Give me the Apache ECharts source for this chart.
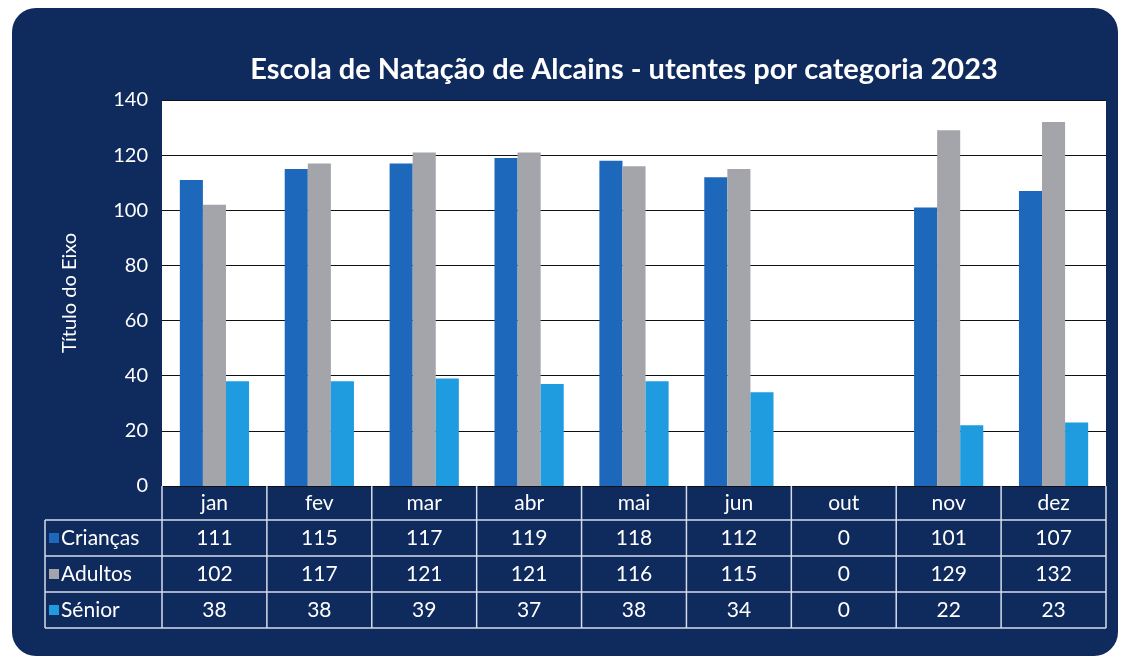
<!DOCTYPE html>
<html>
<head>
<meta charset="utf-8">
<script src="https://cdn.jsdelivr.net/npm/echarts@6/dist/echarts.min.js"></script>
<style>
  html, body { margin: 0; padding: 0; background: #fff; }
  #panel { position: absolute; left: 12px; top: 8px; width: 1106px; height: 648px; background: #0f2a5c; border-radius: 24px; }
  #chart { position: absolute; left: 0; top: 0; width: 1126px; height: 662px; }
</style>
</head>
<body>
<div id="panel"></div>
<div id="chart"></div>
<script>
  var months = ['jan', 'fev', 'mar', 'abr', 'mai', 'jun', 'out', 'nov', 'dez'];
  var criancas = [111, 115, 117, 119, 118, 112, 0, 101, 107];
  var adultos = [102, 117, 121, 121, 116, 115, 0, 129, 132];
  var senior = [38, 38, 39, 37, 38, 34, 0, 22, 23];
  var seriesNames = ['Crianças', 'Adultos', 'Sénior'];
  var colors = ['#1d68ba', '#a4a4ab', '#1f9be0'];
  var font = 'Lato, "Open Sans", sans-serif';

  var chart = echarts.init(document.getElementById('chart'));
  var allData = [criancas, adultos, senior];

  var option = {
    animation: false,
    backgroundColor: 'transparent',
    title: {
      text: 'Escola de Natação de Alcains - utentes por categoria 2023',
      left: 619,
      textAlign: 'center',
      top: 50,
      textStyle: {color: '#fff', fontFamily: font, fontWeight: 'bold', fontSize: 29}
    },
    grid: {
      left: 162, right: 20, top: 100, bottom: 176,
      show: true, backgroundColor: '#fff', borderWidth: 0
    },
    xAxis: {
      type: 'category',
      data: months,
      axisLine: {show: false},
      axisTick: {show: false},
      axisLabel: {show: false}
    },
    yAxis: {
      type: 'value',
      min: 0, max: 140, interval: 20,
      name: 'Título do Eixo',
      nameLocation: 'middle',
      nameGap: 82,
      nameTextStyle: {color: '#fff', fontFamily: font, fontSize: 20},
      axisLabel: {color: '#fff', fontFamily: font, fontSize: 20, margin: 14},
      splitLine: {lineStyle: {color: '#111', width: 1.2}}
    },
    series: seriesNames.map(function (name, i) {
      return {
        name: name,
        type: 'bar',
        data: allData[i],
        barWidth: '22%',
        barGap: '0%',
        itemStyle: {color: colors[i]}
      };
    })
  };
  chart.setOption(option);

  // tabela de dados por baixo do gráfico
  var c0 = chart.convertToPixel({xAxisIndex: 0}, 0);
  var c1 = chart.convertToPixel({xAxisIndex: 0}, 1);
  var colW = c1 - c0;
  var y0 = chart.convertToPixel({yAxisIndex: 0}, 0);
  var xLeft = c0 - colW / 2;
  var xRight = xLeft + colW * months.length;
  var legendLeft = 45;
  var headH = 34, rowH = 36;
  var yBottom = y0 + headH + rowH * 3;
  var lineStyle = {stroke: '#d6dcea', lineWidth: 1.5};
  var tfont = '21px ' + font;
  var els = [];

  for (var k = 0; k <= months.length; k++) {
    var x = xLeft + colW * k;
    els.push({type: 'line', shape: {x1: x, y1: y0, x2: x, y2: yBottom}, style: lineStyle});
  }
  els.push({type: 'line', shape: {x1: legendLeft, y1: y0 + headH, x2: legendLeft, y2: yBottom}, style: lineStyle});
  for (var r = 0; r <= 3; r++) {
    var y = y0 + headH + rowH * r;
    els.push({type: 'line', shape: {x1: legendLeft, y1: y, x2: xRight, y2: y}, style: lineStyle});
  }

  months.forEach(function (m, i) {
    var cx = chart.convertToPixel({xAxisIndex: 0}, i);
    els.push({type: 'text', x: cx, y: y0 + headH / 2,
      style: {text: m, fill: '#fff', font: tfont, textAlign: 'center', textVerticalAlign: 'middle'}});
    allData.forEach(function (arr, s) {
      els.push({type: 'text', x: cx, y: y0 + headH + rowH * s + rowH / 2,
        style: {text: String(arr[i]), fill: '#fff', font: tfont, textAlign: 'center', textVerticalAlign: 'middle'}});
    });
  });

  seriesNames.forEach(function (name, s) {
    var cy = y0 + headH + rowH * s + rowH / 2;
    els.push({type: 'rect', shape: {x: legendLeft + 4, y: cy - 5, width: 10, height: 10}, style: {fill: colors[s]}});
    els.push({type: 'text', x: legendLeft + 16, y: cy,
      style: {text: name, fill: '#fff', font: tfont, textAlign: 'left', textVerticalAlign: 'middle'}});
  });

  chart.setOption({graphic: {elements: els}});
</script>
</body>
</html>
